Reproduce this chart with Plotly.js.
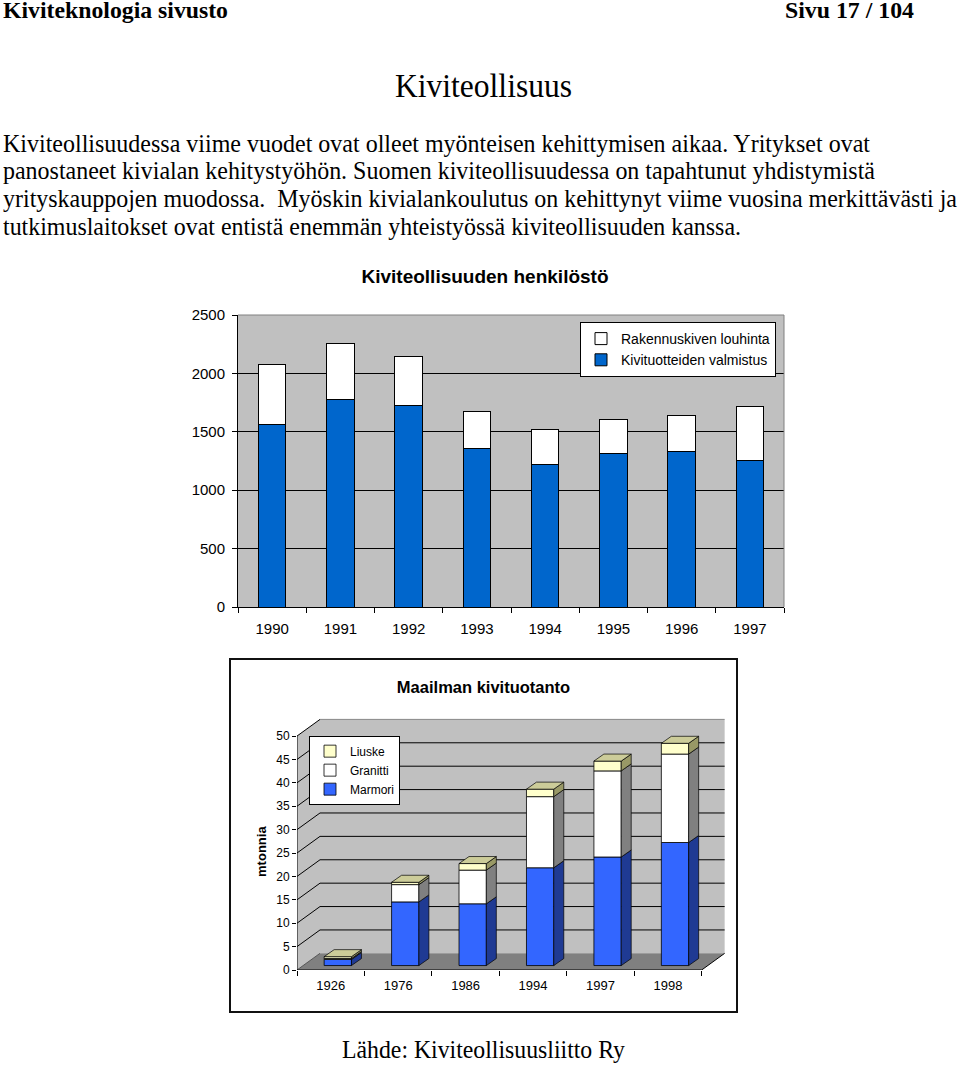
<!DOCTYPE html>
<html>
<head>
<meta charset="utf-8">
<script src="https://cdn.plot.ly/plotly-3.0.1.min.js"></script>
<style>
  html, body { margin:0; padding:0; background:#fff; }
  body { width:960px; height:1071px; position:relative; overflow:hidden; }
  .txt { position:absolute; white-space:pre; color:#000; font-family:'Liberation Serif','Times New Roman',serif; transform-origin:0 50%; }
  #c1 { position:absolute; left:0; top:255px; width:960px; height:395px; }
  #box2 { position:absolute; left:229px; top:658px; width:509px; height:355px; border:2px solid #111; box-sizing:border-box; }
  #c2 { position:absolute; left:0; top:0; width:505px; height:351px; }
</style>
</head>
<body>
<div id="c1"></div>
<div id="box2"><div id="c2"></div></div>
<script>
// ---------- Chart 1 data: Kiviteollisuuden henkilöstö ----------
const years1 = ['1990','1991','1992','1993','1994','1995','1996','1997'];
const valmistus = [1566, 1780, 1728, 1358, 1219, 1315, 1335, 1253];   // Kivituotteiden valmistus
const louhinta  = [507, 475, 419, 313, 304, 294, 305, 461];           // Rakennuskiven louhinta
const yTicks1 = [0, 500, 1000, 1500, 2000, 2500];

// ---------- Chart 2 data: Maailman kivituotanto (mtonnia) ----------
const years2   = ['1926','1976','1986','1994','1997','1998'];
const marmori  = [1.3, 13.6, 13.2, 20.9, 23.2, 26.3];
const granitti = [0.2, 3.7, 7.2, 15.2, 18.4, 18.9];
const liuske   = [0.4, 0.5, 1.4, 1.6, 2.1, 2.3];
const yTicks2 = [0, 5, 10, 15, 20, 25, 30, 35, 40, 45, 50];

// ---------- page text ----------
const pageTexts = [
  {t:'Kiviteknologia sivusto', x1:3, x2:228, yc:11, fs:23, bold:true},
  {t:'Sivu 17 / 104', x1:785, x2:914, yc:11, fs:23, bold:true},
  {t:'Kiviteollisuus', x1:395, x2:572, yc:86, fs:34},
  {t:'Kiviteollisuudessa viime vuodet ovat olleet myönteisen kehittymisen aikaa. Yritykset ovat', x1:3, x2:870, yc:143.5, fs:25},
  {t:'panostaneet kivialan kehitystyöhön. Suomen kiviteollisuudessa on tapahtunut yhdistymistä', x1:3, x2:875, yc:171.2, fs:25},
  {t:'yrityskauppojen muodossa.  Myöskin kivialankoulutus on kehittynyt viime vuosina merkittävästi ja', x1:3, x2:957, yc:198.9, fs:25},
  {t:'tutkimuslaitokset ovat entistä enemmän yhteistyössä kiviteollisuuden kanssa.', x1:3, x2:741, yc:226.6, fs:25},
  {t:'Lähde: Kiviteollisuusliitto Ry', x1:342, x2:625, yc:1050, fs:25}
];
pageTexts.forEach(o => {
  const d = document.createElement('div');
  d.className = 'txt';
  d.textContent = o.t;
  d.style.fontSize = o.fs + 'px';
  d.style.lineHeight = (o.fs * 1.2) + 'px';
  d.style.left = o.x1 + 'px';
  d.style.top = (o.yc - o.fs * 0.6) + 'px';
  if (o.bold) d.style.fontWeight = 'bold';
  document.body.appendChild(d);
  const w = d.getBoundingClientRect().width;
  d.style.transform = 'scaleX(' + ((o.x2 - o.x1) / w) + ')';
});

const SANS = 'Liberation Sans, Arial, sans-serif';

// ---------- Chart 1 ----------
Plotly.newPlot('c1', [
  {type:'bar', name:'Kivituotteiden valmistus', x:years1, y:valmistus,
   marker:{color:'#0066CC', line:{color:'#000', width:1}}},
  {type:'bar', name:'Rakennuskiven louhinta', x:years1, y:louhinta,
   marker:{color:'#FFFFFF', line:{color:'#000', width:1}}}
], {
  width:960, height:395,
  margin:{l:238, r:176, t:60, b:43},
  paper_bgcolor:'rgba(0,0,0,0)',
  plot_bgcolor:'#C0C0C0',
  barmode:'stack', bargap:0.6,
  font:{family:SANS, color:'#000'},
  title:{text:'Kiviteollisuuden henkilöstö', font:{family:SANS, size:19, weight:'bold', color:'#000'},
         x:485/960, xref:'container', xanchor:'center', y:1-21/395, yref:'container', yanchor:'middle'},
  xaxis:{type:'category', tickson:'boundaries', ticks:'outside', ticklen:5, tickcolor:'#000',
         showline:true, linecolor:'#000', linewidth:1, showgrid:false,
         tickfont:{family:SANS, size:15, color:'#000'}, ticklabelstandoff:8},
  yaxis:{range:[0,2500], tickvals:yTicks1, ticks:'outside', ticklen:5, tickcolor:'#000',
         showline:true, linecolor:'#000', linewidth:1, showgrid:true, gridcolor:'#000', gridwidth:1,
         zeroline:false, tickfont:{family:SANS, size:15, color:'#000'}, ticklabelstandoff:4},
  legend:{x:(580-238)/546, y:0.976, xanchor:'left', yanchor:'top', bgcolor:'#FFF', bordercolor:'#000', borderwidth:1,
          traceorder:'reversed', font:{family:SANS, size:14, color:'#000'}},
  shapes:[
    {type:'path', xref:'paper', yref:'paper', path:'M 0 1 L 1 1 L 1 0', line:{color:'#808080', width:1}, layer:'above'}
  ],
  showlegend:true
}, {staticPlot:true});

// ---------- Chart 2 (pseudo-3D) ----------
const W = 0.405, SX = 0.105, BY = 0.95, DDX = 0.148, DDY = 1.5;   // bar geometry
const DX = 0.341, DY = 3.56;                                       // wall depth
const NC = years2.length;
const series2 = [
  {name:'Marmori',  vals:marmori,  front:'#3366FF', side:'#1F3A93'},
  {name:'Granitti', vals:granitti, front:'#FFFFFF', side:'#808080'},
  {name:'Liuske',   vals:liuske,   front:'#FFFFCC', side:'#999966'}
];
const TOPC = '#CCCC99';
const idx = years2.map((_, i) => i);
const cum = idx.map(() => BY);
const traces2 = [];
const faceTraces = [];
series2.forEach(s => {
  const base = cum.slice();
  traces2.push({type:'bar', name:s.name, x:idx.map(i => i + SX), y:s.vals, base:base, width:W,
    marker:{color:s.front, line:{color:'#000', width:0.8}}});
  const px = [], py = [];
  idx.forEach(i => {
    const xr = i + SX + W / 2, lo = base[i], hi = base[i] + s.vals[i];
    px.push(xr, xr, xr + DDX, xr + DDX, xr, null);
    py.push(lo, hi, hi + DDY, lo + DDY, lo, null);
  });
  faceTraces.push({type:'scatter', mode:'lines', x:px, y:py, fill:'toself', fillcolor:s.side,
    line:{color:'#000', width:0.7}, showlegend:false, hoverinfo:'skip'});
  idx.forEach(i => { cum[i] += s.vals[i]; });
});
{
  const px = [], py = [];
  idx.forEach(i => {
    const xl = i + SX - W / 2, xr = i + SX + W / 2, t = cum[i];
    px.push(xl, xr, xr + DDX, xl + DDX, xl, null);
    py.push(t, t, t + DDY, t + DDY, t, null);
  });
  faceTraces.push({type:'scatter', mode:'lines', x:px, y:py, fill:'toself', fillcolor:TOPC,
    line:{color:'#000', width:0.7}, showlegend:false, hoverinfo:'skip'});
}

const X0 = -0.5, X1 = NC - 0.5, YMAX = 50;
const shapes2 = [
  // back wall
  {type:'rect', xref:'x', yref:'y', x0:X0 + DX, x1:X1 + DX, y0:DY, y1:YMAX + DY, fillcolor:'#C0C0C0', line:{width:0}, layer:'below'},
  // side wall
  {type:'path', xref:'x', yref:'y', path:`M ${X0} 0 L ${X0} ${YMAX} L ${X0 + DX} ${YMAX + DY} L ${X0 + DX} ${DY} Z`, fillcolor:'#C0C0C0', line:{width:0}, layer:'below'},
  // floor
  {type:'path', xref:'x', yref:'y', path:`M ${X0} 0 L ${X1} 0 L ${X1 + DX} ${DY} L ${X0 + DX} ${DY} Z`, fillcolor:'#808080', line:{width:0}, layer:'below'}
];
yTicks2.forEach(v => {
  if (v === 0) return;
  const col = v === YMAX ? '#888' : '#000';
  shapes2.push({type:'line', xref:'x', yref:'y', x0:X0 + DX, x1:X1 + DX, y0:v + DY, y1:v + DY, line:{color:col, width:1}, layer:'below'});
  shapes2.push({type:'line', xref:'x', yref:'y', x0:X0, x1:X0 + DX, y0:v, y1:v + DY, line:{color:'#000', width:1}, layer:'below'});
});
shapes2.push(
  {type:'line', xref:'x', yref:'y', x0:X0, x1:X0, y0:0, y1:YMAX, line:{color:'#000', width:1}, layer:'above'},
  {type:'line', xref:'x', yref:'y', x0:X0, x1:X1, y0:0, y1:0, line:{color:'#000', width:1}, layer:'above'},
  {type:'line', xref:'x', yref:'y', x0:X1, x1:X1 + DX, y0:0, y1:DY, line:{color:'#000', width:1}, layer:'above'},
  {type:'line', xref:'x', yref:'y', x0:X0, x1:X0 + DX, y0:0, y1:DY, line:{color:'#555', width:1}, layer:'below'}
);

const bounds = [];
for (let i = 0; i <= NC; i++) bounds.push(i - 0.5);

Plotly.newPlot('c2', traces2.concat(faceTraces), {
  width:505, height:351,
  margin:{l:66, r:4, t:55, b:41},
  paper_bgcolor:'#FFFFFF', plot_bgcolor:'#FFFFFF',
  barmode:'overlay',
  font:{family:SANS, color:'#000'},
  title:{text:'Maailman kivituotanto', font:{family:SANS, size:16.5, weight:'bold', color:'#000'},
         x:0.5, xref:'container', xanchor:'center', y:1 - 27/351, yref:'container', yanchor:'middle'},
  xaxis:{range:[-0.5, 5.95], tickvals:idx, ticktext:years2, ticks:'', showgrid:false, zeroline:false, showline:false,
         tickfont:{family:SANS, size:13, color:'#000'}, ticklabelstandoff:6,
         minor:{tickvals:bounds, ticks:'outside', ticklen:5, tickcolor:'#000', showgrid:false}},
  yaxis:{range:[0, 54.5], tickvals:yTicks2, ticks:'outside', ticklen:4, tickcolor:'#000',
         showgrid:false, zeroline:false, showline:false, tickfont:{family:SANS, size:12, color:'#000'}},
  legend:{x:(309 - 297) / 435, y:0.919, xanchor:'left', yanchor:'top', bgcolor:'#FFF', bordercolor:'#000', borderwidth:1,
          traceorder:'reversed', font:{family:SANS, size:12, color:'#000'}, tracegroupgap:0},
  annotations:[
    {text:'mtonnia', xref:'paper', yref:'paper', x:(262 - 297) / 435, y:0.463, textangle:-90, showarrow:false,
     xanchor:'center', yanchor:'middle', font:{family:SANS, size:13, weight:'bold', color:'#000'}}
  ],
  shapes:shapes2,
  showlegend:true
}, {staticPlot:true});
</script>
</body>
</html>
